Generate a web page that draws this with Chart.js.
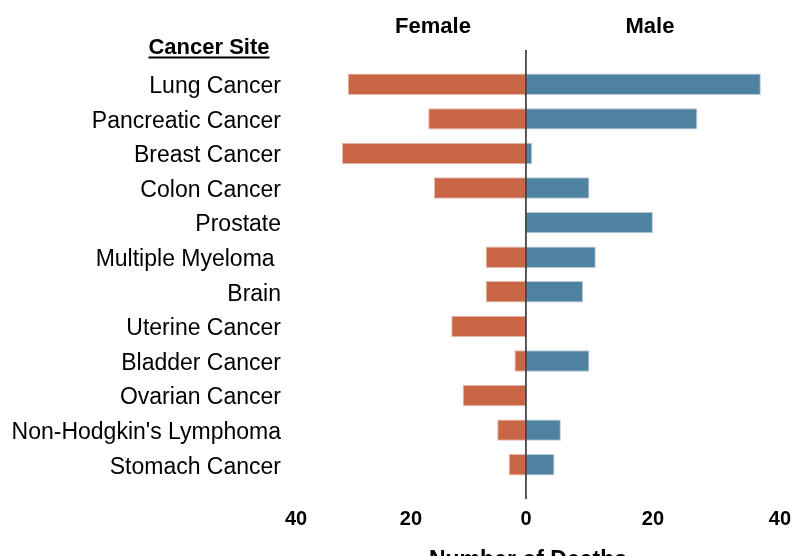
<!DOCTYPE html>
<html>
<head>
<meta charset="utf-8">
<script src="https://cdn.jsdelivr.net/npm/chart.js@4"></script>
<style>
  html, body { margin: 0; padding: 0; background: #fff; }
  #wrap { width: 793px; height: 556px; }
</style>
</head>
<body>
<div id="wrap"><canvas id="deathsChart"></canvas></div>
<script>
const sites = ['Lung Cancer', 'Pancreatic Cancer', 'Breast Cancer', 'Colon Cancer', 'Prostate',
  'Multiple Myeloma ', 'Brain', 'Uterine Cancer', 'Bladder Cancer', 'Ovarian Cancer',
  "Non-Hodgkin's Lymphoma", 'Stomach Cancer'];
const femaleDeaths = [31, 17, 32, 16, 0, 7, 7, 13, 2, 11, 5, 3];
const maleDeaths = [37, 27, 1, 10, 20, 11, 9, 0, 10, 0, 5.5, 4.5];
const axisMax = 40;
const axisStep = 20;

const FONT = "'Liberation Sans', Arial, sans-serif";

// zero line and the header / axis texts
const annotate = {
  id: 'annotate',
  afterDatasetsDraw(chart) {
    const { ctx, chartArea, scales } = chart;
    const x0 = scales.xm.getPixelForValue(0);
    ctx.save();
    ctx.strokeStyle = '#222';
    ctx.lineWidth = 1.5;
    ctx.beginPath();
    ctx.moveTo(x0, chartArea.top - 17);
    ctx.lineTo(x0, chartArea.bottom + 17);
    ctx.stroke();

    ctx.fillStyle = '#000';
    ctx.textAlign = 'center';
    ctx.textBaseline = 'alphabetic';
    ctx.font = 'bold 22px ' + FONT;
    ctx.fillText('Female', 433, 33);
    ctx.fillText('Male', 650, 33);

    const head = 'Cancer Site';
    ctx.fillText(head, 209, 54);
    const w = ctx.measureText(head).width;
    ctx.lineWidth = 2;
    ctx.strokeStyle = '#000';
    ctx.beginPath();
    ctx.moveTo(209 - w / 2, 57.5);
    ctx.lineTo(209 + w / 2, 57.5);
    ctx.stroke();

    ctx.font = 'bold 23px ' + FONT;
    ctx.fillText('Number of Deaths', 528, 567);
    ctx.restore();
  }
};

const tickFont = { family: FONT, size: 20, weight: 'bold' };

new Chart(document.getElementById('deathsChart'), {
  type: 'bar',
  data: {
    labels: sites,
    datasets: [{
      label: 'Female',
      data: femaleDeaths,
      xAxisID: 'xf',
      backgroundColor: '#C86646',
      borderColor: '#E9B9A8',
      borderWidth: 1,
      borderSkipped: false,
      grouped: false,
      barPercentage: 0.617,
      categoryPercentage: 1
    }, {
      label: 'Male',
      data: maleDeaths,
      xAxisID: 'xm',
      backgroundColor: '#4E82A0',
      borderColor: '#B7CCDA',
      borderWidth: 1,
      borderSkipped: false,
      grouped: false,
      barPercentage: 0.617,
      categoryPercentage: 1
    }]
  },
  options: {
    indexAxis: 'y',
    responsive: true,
    maintainAspectRatio: false,
    animation: false,
    layout: { padding: { top: 67, right: 13, bottom: 23, left: 0 } },
    plugins: {
      legend: { display: false },
      tooltip: { enabled: false }
    },
    scales: {
      y: {
        type: 'category',
        offset: true,
        grid: { display: false, drawTicks: false },
        border: { display: false },
        ticks: {
          autoSkip: false,
          color: '#000',
          padding: 15,
          labelOffset: 2.5,
          font: { family: FONT, size: 23 }
        },
        afterFit: (s) => { s.width = 296; }
      },
      xf: {
        type: 'linear',
        position: 'bottom',
        stack: 'deaths',
        stackWeight: 230,
        reverse: true,
        min: 0,
        max: axisMax,
        grid: { display: false, drawTicks: true, tickLength: 23 },
        border: { display: false },
        ticks: {
          stepSize: axisStep,
          color: '#000',
          padding: 2,
          font: tickFont,
          maxRotation: 0,
          callback: (v) => (v === 0 ? '' : v)
        }
      },
      xm: {
        type: 'linear',
        position: 'bottom',
        stack: 'deaths',
        stackWeight: 254,
        min: 0,
        max: axisMax,
        grid: { display: false, drawTicks: true, tickLength: 23 },
        border: { display: false },
        ticks: {
          stepSize: axisStep,
          color: '#000',
          padding: 2,
          font: tickFont,
          maxRotation: 0
        }
      }
    }
  },
  plugins: [annotate]
});
</script>
</body>
</html>
